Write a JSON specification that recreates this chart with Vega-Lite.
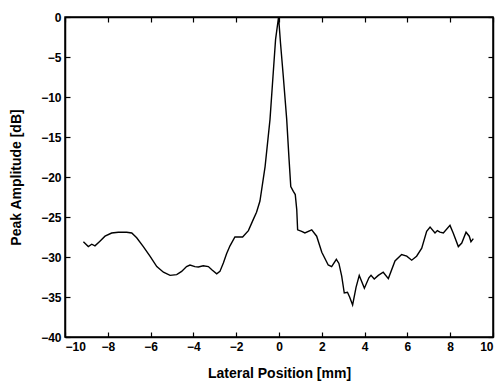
{
  "$schema": "https://vega.github.io/schema/vega-lite/v6.json",
  "autosize": {"type": "none"},
  "padding": {"left": 65, "top": 17, "right": 7, "bottom": 45},
  "width": 428,
  "height": 320,
  "background": "white",
  "config": {
    "view": {"stroke": "black", "strokeWidth": 1.5},
    "axis": {
      "domain": true, "domainColor": "black", "domainWidth": 1.5,
      "grid": false,
      "tickColor": "black", "tickSize": -5, "tickWidth": 1.2,
      "labelFont": "Liberation Sans", "labelFontSize": 12, "labelFontWeight": "bold", "labelColor": "black",
      "titleFont": "Liberation Sans", "titleFontSize": 14, "titleFontWeight": "bold", "titleColor": "black"
    }
  },
  "data": {"values": [
    {"x": -9.14, "y": -28.1}, {"x": -8.91, "y": -28.7}, {"x": -8.75, "y": -28.4}, {"x": -8.6, "y": -28.6},
    {"x": -8.38, "y": -28.05}, {"x": -8.13, "y": -27.4}, {"x": -7.82, "y": -27.0}, {"x": -7.51, "y": -26.9},
    {"x": -7.12, "y": -26.9}, {"x": -6.88, "y": -27.0}, {"x": -6.65, "y": -27.6}, {"x": -6.34, "y": -28.7},
    {"x": -6.03, "y": -29.9}, {"x": -5.71, "y": -31.2}, {"x": -5.4, "y": -31.9}, {"x": -5.09, "y": -32.3},
    {"x": -4.78, "y": -32.2}, {"x": -4.55, "y": -31.8}, {"x": -4.32, "y": -31.2}, {"x": -4.16, "y": -31.0},
    {"x": -3.93, "y": -31.2}, {"x": -3.77, "y": -31.25}, {"x": -3.54, "y": -31.1}, {"x": -3.3, "y": -31.2},
    {"x": -3.14, "y": -31.6}, {"x": -2.91, "y": -32.1}, {"x": -2.76, "y": -31.8}, {"x": -2.6, "y": -30.75},
    {"x": -2.45, "y": -29.6}, {"x": -2.29, "y": -28.6}, {"x": -2.06, "y": -27.5}, {"x": -1.7, "y": -27.5},
    {"x": -1.43, "y": -26.7}, {"x": -1.2, "y": -25.3}, {"x": -1.05, "y": -24.4}, {"x": -0.89, "y": -23.0},
    {"x": -0.65, "y": -18.7}, {"x": -0.42, "y": -12.8}, {"x": -0.27, "y": -7.0}, {"x": -0.16, "y": -2.8},
    {"x": -0.02, "y": 0.0}, {"x": 0.07, "y": -3.25}, {"x": 0.2, "y": -7.4}, {"x": 0.36, "y": -12.8},
    {"x": 0.47, "y": -17.8}, {"x": 0.55, "y": -21.2}, {"x": 0.67, "y": -21.8}, {"x": 0.76, "y": -22.2},
    {"x": 0.83, "y": -24.1}, {"x": 0.87, "y": -26.6}, {"x": 1.06, "y": -26.8}, {"x": 1.21, "y": -27.0},
    {"x": 1.53, "y": -26.6}, {"x": 1.76, "y": -27.4}, {"x": 2.0, "y": -29.4}, {"x": 2.3, "y": -31.0},
    {"x": 2.46, "y": -31.2}, {"x": 2.68, "y": -30.3}, {"x": 2.8, "y": -30.8}, {"x": 2.93, "y": -32.4},
    {"x": 3.05, "y": -34.5}, {"x": 3.2, "y": -34.4}, {"x": 3.3, "y": -35.0}, {"x": 3.44, "y": -36.0},
    {"x": 3.6, "y": -33.8}, {"x": 3.75, "y": -32.3}, {"x": 3.99, "y": -33.9}, {"x": 4.2, "y": -32.6},
    {"x": 4.3, "y": -32.3}, {"x": 4.45, "y": -32.75}, {"x": 4.64, "y": -32.3}, {"x": 4.87, "y": -31.9},
    {"x": 5.11, "y": -32.7}, {"x": 5.42, "y": -30.5}, {"x": 5.73, "y": -29.7}, {"x": 5.97, "y": -29.9},
    {"x": 6.2, "y": -30.4}, {"x": 6.43, "y": -29.9}, {"x": 6.67, "y": -28.9}, {"x": 6.9, "y": -26.8},
    {"x": 7.06, "y": -26.25}, {"x": 7.29, "y": -27.0}, {"x": 7.4, "y": -26.7}, {"x": 7.52, "y": -26.9},
    {"x": 7.68, "y": -27.0}, {"x": 7.99, "y": -26.05}, {"x": 8.14, "y": -27.0}, {"x": 8.38, "y": -28.7},
    {"x": 8.54, "y": -28.25}, {"x": 8.74, "y": -26.9}, {"x": 8.89, "y": -27.4}, {"x": 8.97, "y": -28.1},
    {"x": 9.08, "y": -27.7}
  ]},
  "layer": [
    {
      "mark": {"type": "line", "color": "black", "strokeWidth": 1.4},
      "encoding": {
        "x": {"field": "x", "type": "quantitative", "scale": {"domain": [-10, 10], "nice": false},
              "axis": {"values": [-10, -8, -6, -4, -2, 0, 2, 4, 6, 8, 10], "title": "Lateral Position [mm]", "labelPadding": 9, "titlePadding": 14}},
        "y": {"field": "y", "type": "quantitative", "scale": {"domain": [-40, 0], "nice": false},
              "axis": {"values": [-40, -35, -30, -25, -20, -15, -10, -5, 0], "title": "Peak Amplitude [dB]", "labelPadding": 9, "titleX": -42}}
      }
    },
    {
      "mark": {"type": "line", "opacity": 0},
      "encoding": {
        "x": {"field": "x", "type": "quantitative", "scale": {"domain": [-10, 10], "nice": false},
              "axis": {"orient": "top", "values": [-10, -8, -6, -4, -2, 0, 2, 4, 6, 8, 10], "labels": false, "title": null}},
        "y": {"field": "y", "type": "quantitative", "scale": {"domain": [-40, 0], "nice": false},
              "axis": {"orient": "right", "values": [-40, -35, -30, -25, -20, -15, -10, -5, 0], "labels": false, "title": null}}
      }
    }
  ],
  "resolve": {"axis": {"x": "independent", "y": "independent"}}
}
